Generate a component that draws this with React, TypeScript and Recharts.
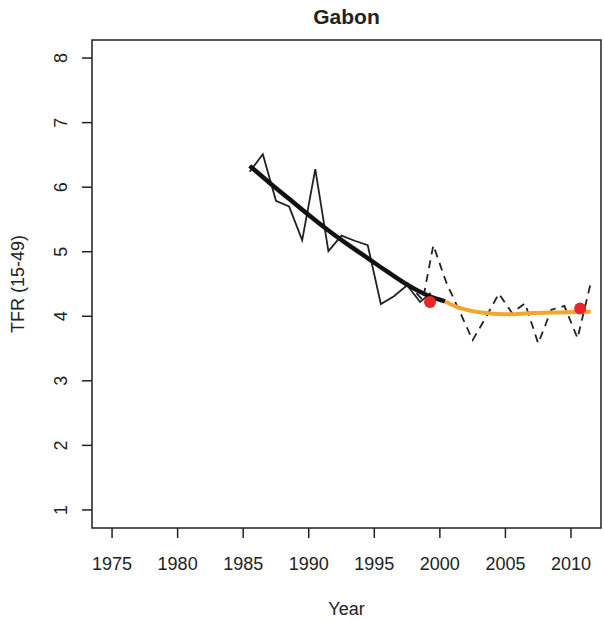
import {
  ComposedChart,
  Line,
  Scatter,
  XAxis,
  YAxis,
  ReferenceArea,
  Label,
} from "recharts";

// survey 1 annual estimates (solid thin line)
const surveyOneYears = [1985.5, 1986.5, 1987.5, 1988.5, 1989.5, 1990.5, 1991.5, 1992.5, 1993.5, 1994.5, 1995.5, 1996.5, 1997.5, 1998.5, 1999.3];
const surveyOneTfr = [6.24, 6.51, 5.79, 5.7, 5.18, 6.28, 5.01, 5.25, 5.17, 5.1, 4.19, 4.31, 4.48, 4.22, 4.36];

// survey 2 annual estimates (dashed line)
const surveyTwoYears = [1997.5, 1998.7, 1999.5, 2000.5, 2001.5, 2002.5, 2003.5, 2004.5, 2005.5, 2006.5, 2007.5, 2008.5, 2009.5, 2010.5, 2011.5];
const surveyTwoTfr = [4.52, 4.25, 5.1, 4.52, 4.08, 3.63, 3.98, 4.35, 4.05, 4.2, 3.58, 4.1, 4.16, 3.66, 4.51];

// fitted trend (thick black) and projection (orange)
const fitYears = [1985.5, 1987, 1988.5, 1990, 1991.5, 1993, 1994.5, 1996, 1997.5, 1999, 2000.4];
const fitTfr = [6.33, 6.07, 5.82, 5.57, 5.33, 5.11, 4.9, 4.69, 4.49, 4.33, 4.23];
const projYears = [2000.4, 2001.5, 2002.5, 2003.5, 2005, 2007, 2009, 2011.5];
const projTfr = [4.23, 4.13, 4.08, 4.05, 4.03, 4.05, 4.06, 4.07];

// survey-level TFR (red points)
const pointYears = [1999.25, 2010.7];
const pointTfr = [4.22, 4.12];

const xTicks = [1975, 1980, 1985, 1990, 1995, 2000, 2005, 2010];
const yTicks = [1, 2, 3, 4, 5, 6, 7, 8];
const xDomain: [number, number] = [1973.47, 2012.29];
const yDomain: [number, number] = [0.72, 8.28];

const zip = (xs: number[], ys: number[]) => xs.map((year, i) => ({ year, v: ys[i] }));

const FONT = '"Liberation Sans", Arial, sans-serif';
const INK = "#222";

const XTick = (props: any) => (
  <text x={props.x} y={props.y + 30} textAnchor="middle" fontFamily={FONT} fontSize={18} fill={INK}>
    {props.payload.value}
  </text>
);

const YTick = (props: any) => {
  const x = props.x - 13;
  return (
    <text
      x={x}
      y={props.y}
      transform={`rotate(-90, ${x}, ${props.y})`}
      textAnchor="middle"
      fontFamily={FONT}
      fontSize={18}
      fill={INK}
    >
      {props.payload.value}
    </text>
  );
};

export default function App() {
  return (
    <div style={{ position: "absolute", left: 0, top: 0, width: 604, height: 622, background: "#fff" }}>
      <div
        style={{
          position: "absolute",
          left: 92,
          width: 509,
          top: 5,
          textAlign: "center",
          fontFamily: FONT,
          fontWeight: "bold",
          fontSize: 21,
          color: INK,
        }}
      >
        Gabon
      </div>
      <ComposedChart width={604} height={622} margin={{ top: 40, right: 3, bottom: 0, left: 0 }}>
        <XAxis
          type="number"
          dataKey="year"
          domain={xDomain}
          ticks={xTicks}
          allowDataOverflow
          height={94}
          axisLine={false}
          tickSize={10}
          tickLine={{ stroke: INK, strokeWidth: 1.5 }}
          tick={<XTick />}
        >
          <Label
            content={(p: any) => (
              <text
                x={p.viewBox.x + p.viewBox.width / 2}
                y={p.viewBox.y + 87}
                textAnchor="middle"
                fontFamily={FONT}
                fontSize={18}
                fill={INK}
              >
                Year
              </text>
            )}
          />
        </XAxis>
        <YAxis
          type="number"
          domain={yDomain}
          ticks={yTicks}
          allowDataOverflow
          width={92}
          axisLine={false}
          tickSize={10}
          tickLine={{ stroke: INK, strokeWidth: 1.5 }}
          tick={<YTick />}
        >
          <Label
            content={(p: any) => {
              const cx = 24;
              const cy = p.viewBox.y + p.viewBox.height / 2;
              return (
                <text
                  x={cx}
                  y={cy}
                  transform={`rotate(-90, ${cx}, ${cy})`}
                  textAnchor="middle"
                  fontFamily={FONT}
                  fontSize={18}
                  fill={INK}
                >
                  TFR (15-49)
                </text>
              );
            }}
          />
        </YAxis>
        <ReferenceArea
          x1={xDomain[0]}
          x2={xDomain[1]}
          y1={yDomain[0]}
          y2={yDomain[1]}
          fill="none"
          stroke={INK}
          strokeWidth={1.5}
          ifOverflow="visible"
        />
        <Line
          data={zip(surveyOneYears, surveyOneTfr)}
          dataKey="v"
          type="linear"
          stroke={INK}
          strokeWidth={1.8}
          dot={false}
          isAnimationActive={false}
        />
        <Line
          data={zip(surveyTwoYears, surveyTwoTfr)}
          dataKey="v"
          type="linear"
          stroke={INK}
          strokeWidth={1.8}
          strokeDasharray="8 6"
          dot={false}
          isAnimationActive={false}
        />
        <Line
          data={zip(fitYears, fitTfr)}
          dataKey="v"
          type="monotone"
          stroke="#111"
          strokeWidth={4.5}
          dot={false}
          isAnimationActive={false}
        />
        <Line
          data={zip(projYears, projTfr)}
          dataKey="v"
          type="monotone"
          stroke="#F4A52A"
          strokeWidth={4}
          dot={false}
          isAnimationActive={false}
        />
        <Scatter
          data={zip(pointYears, pointTfr)}
          dataKey="v"
          isAnimationActive={false}
          shape={(p: any) => <circle cx={p.cx} cy={p.cy} r={6} fill="#E8262A" />}
        />
      </ComposedChart>
    </div>
  );
}
